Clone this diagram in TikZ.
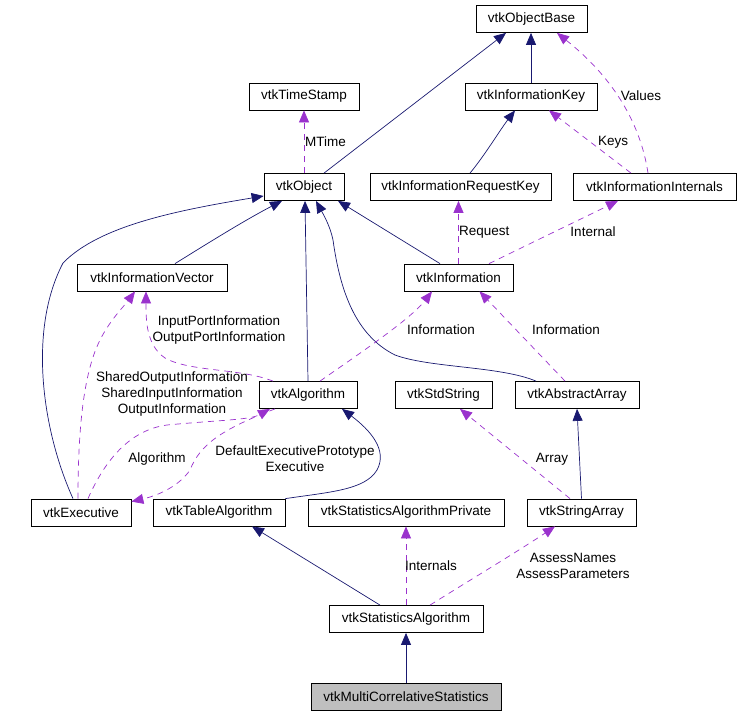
\documentclass[tikz,border=0pt]{standalone}
\usepackage{fontspec}
\setmainfont{Liberation Sans}
\usetikzlibrary{arrows.meta}
\definecolor{dxazul}{HTML}{191970}
\definecolor{dxroxo}{HTML}{9A32CD}
\definecolor{dxcinza}{HTML}{BFBFBF}
\tikzset{
  dxbloco/.style={draw=black, fill=white, line width=0.8pt, inner sep=0pt,
                  minimum height=27pt, font=\fontsize{13.5}{16}\selectfont},
  dxbase/.style={dxbloco, fill=dxcinza},
  dxheranca/.style={-{Triangle[length=12pt, width=10pt]}, draw=dxazul, line width=0.7pt},
  dxuso/.style={-{Triangle[length=12pt, width=10pt]}, draw=dxroxo, line width=0.7pt,
                dash pattern=on 6pt off 5pt},
  dxrotulo/.style={font=\fontsize{13.5}{16}\selectfont, align=center, inner sep=0pt},
}
\begin{document}
\begin{tikzpicture}[x=1pt, y=-1pt]
    \useasboundingbox (0,0) rectangle (741,715);
    % classes
    \node[dxbloco, minimum width=111pt] (obase) at (531.5,19) {vtkObjectBase};
    \node[dxbloco, minimum width=110pt] (tstamp) at (304,96.5) {vtkTimeStamp};
    \node[dxbloco, minimum width=132pt] (ikey) at (531,96.5) {vtkInformationKey};
    \node[dxbloco, minimum width=80pt] (obj) at (304,187) {vtkObject};
    \node[dxbloco, minimum width=181pt] (ireqkey) at (460.5,187) {vtkInformationRequestKey};
    \node[dxbloco, minimum width=163pt] (iint) at (654.5,187) {vtkInformationInternals};
    \node[dxbloco, minimum width=150pt] (ivec) at (152,277.5) {vtkInformationVector};
    \node[dxbloco, minimum width=109pt] (info) at (458.5,277.5) {vtkInformation};
    \node[dxbloco, minimum width=98pt] (alg) at (308,395) {vtkAlgorithm};
    \node[dxbloco, minimum width=97pt] (stdstr) at (443.5,395) {vtkStdString};
    \node[dxbloco, minimum width=124pt] (absarr) at (577,395) {vtkAbstractArray};
    \node[dxbloco, minimum width=100pt] (exec) at (81,512.5) {vtkExecutive};
    \node[dxbloco, minimum width=132pt] (tabalg) at (219,512.5) {vtkTableAlgorithm};
    \node[dxbloco, minimum width=196pt] (stpriv) at (406,512.5) {vtkStatisticsAlgorithmPrivate};
    \node[dxbloco, minimum width=109pt] (strarr) at (581.5,512.5) {vtkStringArray};
    \node[dxbloco, minimum width=154pt] (stalg) at (406,619) {vtkStatisticsAlgorithm};
    \node[dxbase, minimum width=190pt] (multi) at (406,696.5) {vtkMultiCorrelativeStatistics};
    % heranca
    \draw[dxheranca] ([xshift=20pt]obj.north) -- ([xshift=-25.5pt]obase.south);
    \draw[dxheranca] (ikey.north) -- (ikey.north |- obase.south);
    \draw[dxheranca] ([xshift=9.5pt]ireqkey.north) .. controls (485,155) and (500,130) .. ([xshift=-16pt]ikey.south);
    \draw[dxheranca] ([xshift=23pt]ivec.north) .. controls (205,245) and (245,220) .. ([xshift=-22pt]obj.south);
    \draw[dxheranca] ([xshift=-18.5pt]info.north) -- ([xshift=34pt]obj.south);
    \draw[dxheranca] (alg.north) -- ([xshift=1pt]obj.south);
    \draw[dxheranca] ([xshift=-41pt]absarr.north) .. controls (500,366) and (430,368) .. (395,355)
        .. controls (355,335) and (340,290) .. (333,240) .. controls (330,225) and (322,212) .. ([xshift=12pt]obj.south);
    \draw[dxheranca] ([xshift=-8pt]exec.north) .. controls (42,430) and (28,330) .. (63,263)
        .. controls (100,225) and (180,210) .. ([yshift=-9pt]obj.west);
    \draw[dxheranca] (tabalg.north east) .. controls (330,492) and (365,490) .. (377,470)
        .. controls (388,450) and (370,430) .. ([xshift=34pt]alg.south);
    \draw[dxheranca] ([xshift=-26pt]stalg.north) -- ([xshift=33pt]tabalg.south);
    \draw[dxheranca] (multi.north) -- (stalg.south);
    \draw[dxheranca] (strarr.north) -- (absarr.south);
    % uso
    \draw[dxuso] (obj.north) -- (tstamp.south);
    \node[dxrotulo, anchor=west] (rmtime) at (305,142) {MTime};
    \draw[dxuso] ([xshift=-6.5pt]iint.north) .. controls (640,120) and (610,75) .. ([xshift=25.5pt]obase.south);
    \node[dxrotulo] (rvalues) at (641,96) {Values};
    \draw[dxuso] ([xshift=-23.5pt]iint.north) -- ([xshift=18pt]ikey.south);
    \node[dxrotulo] (rkeys) at (613,142) {Keys};
    \draw[dxuso] (info.north) -- (info.north |- ireqkey.south);
    \node[dxrotulo, anchor=west] (rrequest) at (459,232) {Request};
    \draw[dxuso] ([xshift=30.5pt]info.north) -- ([xshift=-36.5pt]iint.south);
    \node[dxrotulo] (rinternal) at (593,232) {Internal};
    \draw[dxuso] ([xshift=-35pt]alg.north) .. controls (240,368) and (190,372) .. (165,358)
        .. controls (146,345) and (146,320) .. ([xshift=-6pt]ivec.south);
    \node[dxrotulo] (rports) at (219,330) {InputPortInformation\\OutputPortInformation};
    \draw[dxuso] ([xshift=-3pt]exec.north) .. controls (78,420) and (85,370) .. (100,340)
        .. controls (110,320) and (125,305) .. ([xshift=-17pt]ivec.south);
    \node[dxrotulo] (rshared) at (172,394) {SharedOutputInformation\\SharedInputInformation\\OutputInformation};
    \draw[dxuso] ([xshift=12pt]alg.north) .. controls (350,360) and (410,320) .. ([xshift=-26.5pt]info.south);
    \node[dxrotulo] (rinfoalg) at (441,330) {Information};
    \draw[dxuso] ([xshift=-12pt]absarr.north) -- ([xshift=21pt]info.south);
    \node[dxrotulo] (rinfoarr) at (566,330) {Information};
    \draw[dxuso] ([xshift=7pt]exec.north) .. controls (105,460) and (130,430) .. (167,425)
        .. controls (220,420) and (250,420) .. ([xshift=-38pt]alg.south);
    \node[dxrotulo] (ralg) at (157,459) {Algorithm};
    \draw[dxuso] ([xshift=-33pt]alg.south) .. controls (220,430) and (200,445) .. (190,470)
        .. controls (180,485) and (160,495) .. ([yshift=-3pt]exec.north east);
    \node[dxrotulo] (rexec) at (295,459) {DefaultExecutivePrototype\\Executive};
    \draw[dxuso] ([xshift=-11.5pt]strarr.north) -- ([xshift=16.5pt]stdstr.south);
    \node[dxrotulo] (rarray) at (552,459) {Array};
    \draw[dxuso] (stalg.north) -- (stpriv.south);
    \node[dxrotulo, anchor=west] (rinternals) at (405,566) {Internals};
    \draw[dxuso] ([xshift=24pt]stalg.north) .. controls (470,580) and (520,550) .. ([xshift=-26.5pt]strarr.south);
    \node[dxrotulo] (rassess) at (573,566) {AssessNames\\AssessParameters};
\end{tikzpicture}
\end{document}
